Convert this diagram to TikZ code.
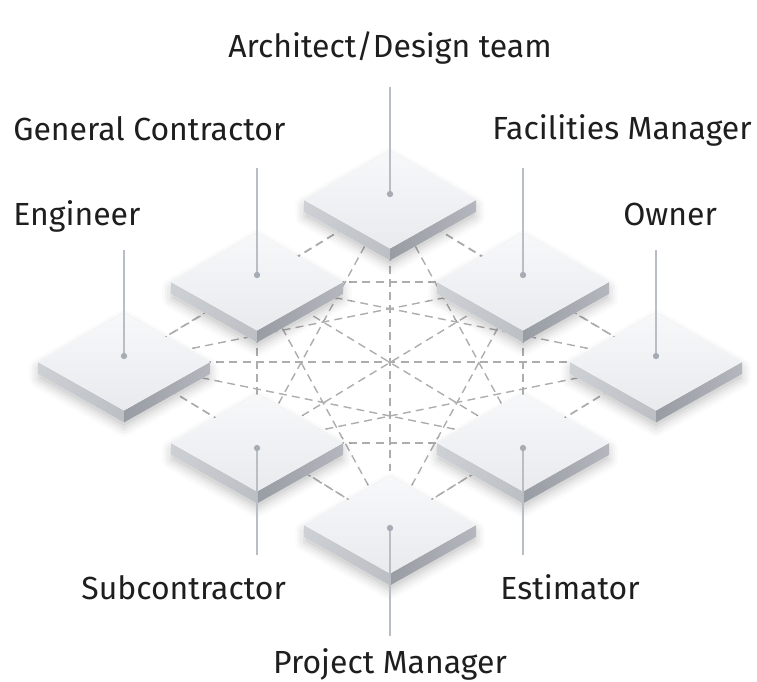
\documentclass[tikz,border=0pt]{standalone}
\usepackage{fontspec}
\usepackage{tikz}
\usetikzlibrary{positioning}
\usetikzlibrary{calc}
\usetikzlibrary{shadows.blur}
\newfontfamily\labelfont{Fira Sans}
\definecolor{linkgray}{HTML}{ADADAD}
\definecolor{pingray}{HTML}{B9BDC4}
\definecolor{dotgray}{HTML}{A7ABB3}
\definecolor{labelblack}{HTML}{1E1E1E}
\definecolor{facetop}{HTML}{F7F8FA}
\definecolor{facebot}{HTML}{E8EAED}
\definecolor{sideleft}{HTML}{CDD0D4}
\definecolor{sideleftb}{HTML}{BCBFC4}
\definecolor{sideright}{HTML}{989CA3}
\definecolor{siderightb}{HTML}{B4B7BD}

\begin{document}
\begin{tikzpicture}[x=0.02cm,y=-0.02cm,
  link/.style={draw=linkgray,line width=0.8pt,dash pattern=on 4.5pt off 3pt},
  pin/.style={draw=pingray,line width=0.9pt},
  dot/.style={circle,fill=dotgray,inner sep=0pt,minimum size=9\pgflinewidth},
  lbl/.style={font={\labelfont\fontsize{18.2}{22}\selectfont},text=labelblack,inner sep=0pt}]
\useasboundingbox (0,0) rectangle (757,681);

\coordinate (arch) at (390,200);
\coordinate (gc) at (257,282);
\coordinate (fm) at (523,282);
\coordinate (eng) at (124,362);
\coordinate (own) at (656,362);
\coordinate (sub) at (257,443);
\coordinate (est) at (523,443);
\coordinate (pm) at (390,525);

\foreach \a [count=\i] in {arch,gc,fm,eng,own,sub,est,pm}
  \foreach \b [count=\j] in {arch,gc,fm,eng,own,sub,est,pm}
    {\ifnum\j>\i \draw[link] (\a) -- (\b); \fi}

\foreach \t in {arch,gc,fm,eng,own,sub,est,pm}{
\begin{scope}[shift={(\t)}]
\fill[white,blur shadow={shadow xshift=0pt,shadow yshift=-3pt,shadow blur radius=5pt,shadow opacity=22}]
  (-86,0) -- (0,-48.5) -- (86,0) -- (86,12) -- (0,60.5) -- (-86,12) -- cycle;
\shade[left color=sideleft,right color=sideleftb] (-86,0) -- (0,48.5) -- (0,60.5) -- (-86,12) -- cycle;
\shade[left color=sideright,right color=siderightb] (0,48.5) -- (86,0) -- (86,12) -- (0,60.5) -- cycle;
\shade[top color=facetop,bottom color=facebot] (-86,0) -- (0,-48.5) -- (86,0) -- (0,48.5) -- cycle;
\end{scope}
}

\coordinate (arch-end) at (390,87);
\coordinate (gc-end) at (257,168);
\coordinate (fm-end) at (523,168);
\coordinate (eng-end) at (124,250);
\coordinate (own-end) at (656,250);
\coordinate (sub-end) at (257,555);
\coordinate (est-end) at (523,555);
\coordinate (pm-end) at (390,636);

\foreach \t/\d in {arch/-6,gc/-7,fm/-7,eng/-6,own/-6,sub/5,est/5,pm/3}{
\draw[pin] ($(\t)+(0,\d)$) -- (\t-end);
\node[dot] (\t-dot) at ($(\t)+(0,\d)$) {};
}

\node[lbl,anchor=base] (arch-lbl) at (390,57) {Architect/Design team};
\node[lbl,anchor=base west] (gc-lbl) at (13,140) {General Contractor};
\node[lbl,anchor=base east] (fm-lbl) at (752,139) {Facilities Manager};
\node[lbl,anchor=base west] (eng-lbl) at (13,225) {Engineer};
\node[lbl,anchor=base west] (own-lbl) at (623,225) {Owner};
\node[lbl,anchor=base west] (sub-lbl) at (81,599) {Subcontractor};
\node[lbl,anchor=base west] (est-lbl) at (500,599) {Estimator};
\node[lbl,anchor=base] (pm-lbl) at (390,673) {Project Manager};
\end{tikzpicture}
\end{document}
